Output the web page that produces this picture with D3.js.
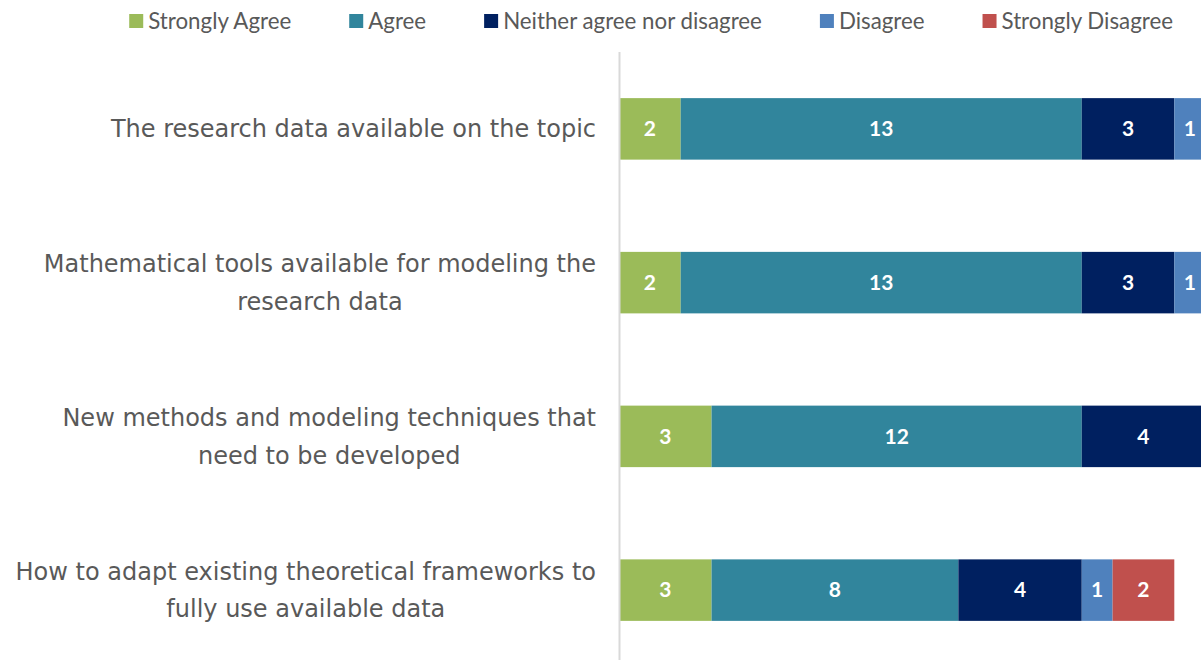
<!DOCTYPE html>
<html lang="en">
<head>
<meta charset="utf-8">
<title>Stacked bar chart</title>
<script src="https://cdn.jsdelivr.net/npm/d3@7"></script>
<style>
  body { margin: 0; background: #fff; }
  svg { display: block; }
</style>
</head>
<body>
<script>
// data
var categories = [
  ["The research data available on the topic"],
  ["Mathematical tools available for modeling the", "research data"],
  ["New methods and modeling techniques that", "need to be developed"],
  ["How to adapt existing theoretical frameworks to", "fully use available data"]
];
var seriesNames = ["Strongly Agree", "Agree", "Neither agree nor disagree", "Disagree", "Strongly Disagree"];
var seriesColors = ["#9BBB59", "#31859C", "#002060", "#4F81BD", "#C0504D"];
var stronglyAgree = [2, 2, 3, 3];
var agree = [13, 13, 12, 8];
var neither = [3, 3, 4, 4];
var disagree = [1, 1, 0, 1];
var stronglyDisagree = [0, 0, 0, 2];

var w = 1201, h = 660;
var axisX = 619;

var svg = d3.select("body").append("svg")
  .attr("width", w)
  .attr("height", h);

var rows = categories.map(function(c, i) {
  return { id: i, sa: stronglyAgree[i], a: agree[i], n: neither[i], d: disagree[i], sd: stronglyDisagree[i] };
});
var keys = ["sa", "a", "n", "d", "sd"];
var stacked = d3.stack().keys(keys)(rows);

var x = d3.scaleLinear().domain([0, 20]).range([axisX, axisX + 617]);
var y = d3.scaleBand().domain(rows.map(function(d) { return d.id; }))
  .range([52, 667]).paddingInner(0.6).paddingOuter(0.3);

// bars
var layers = svg.selectAll("g.layer")
  .data(stacked)
  .enter().append("g")
  .attr("class", "layer")
  .attr("fill", function(d, i) { return seriesColors[i]; });

layers.selectAll("rect")
  .data(function(d) { return d.filter(function(p) { return p[1] - p[0] > 0; }); })
  .enter().append("rect")
  .attr("x", function(d) { return x(d[0]); })
  .attr("y", function(d) { return y(d.data.id); })
  .attr("width", function(d) { return x(d[1]) - x(d[0]); })
  .attr("height", y.bandwidth());

// value labels
layers.selectAll("text")
  .data(function(d) { return d.filter(function(p) { return p[1] - p[0] > 0; }); })
  .enter().append("text")
  .attr("x", function(d) { return (x(d[0]) + x(d[1])) / 2; })
  .attr("y", function(d) { return y(d.data.id) + y.bandwidth() / 2; })
  .attr("dy", "0.35em")
  .attr("text-anchor", "middle")
  .attr("fill", "#fff")
  .attr("font-family", "Lato, 'Open Sans', sans-serif")
  .attr("font-weight", "bold")
  .attr("font-size", "21px")
  .text(function(d) { return d[1] - d[0]; });

// axis line
svg.append("line")
  .attr("x1", axisX + 0.5).attr("x2", axisX + 0.5)
  .attr("y1", 52).attr("y2", h)
  .attr("stroke", "#d9d9d9")
  .attr("stroke-width", 2);

// category labels (multi-line blocks centred, right edge at 596)
var lineH = 37.5;
categories.forEach(function(lines, i) {
  var cy = y(i) + y.bandwidth() / 2;
  var g = svg.append("text")
    .attr("font-family", "'DejaVu Sans', Verdana, sans-serif")
    .attr("font-size", "24px")
    .attr("fill", "#595959")
    .attr("text-anchor", "middle");
  var tspans = lines.map(function(t, j) {
    return g.append("tspan")
      .attr("y", cy + (j - (lines.length - 1) / 2) * lineH)
      .attr("dy", "0.35em")
      .text(t);
  });
  var maxW = d3.max(tspans, function(t) { return t.node().getComputedTextLength(); });
  tspans.forEach(function(t) { t.attr("x", 596 - maxW / 2); });
});

// legend
var legend = svg.append("g");
var gap = 58;
var lx = 0;
seriesNames.forEach(function(name, i) {
  var item = legend.append("g").attr("transform", "translate(" + lx + ",0)");
  item.append("rect")
    .attr("x", 0).attr("y", 14)
    .attr("width", 14).attr("height", 14)
    .attr("fill", seriesColors[i]);
  var t = item.append("text")
    .attr("x", 19).attr("y", 21)
    .attr("dy", "0.35em")
    .attr("font-family", "Lato, 'Open Sans', sans-serif")
    .attr("font-size", "22.3px")
    .attr("fill", "#595959")
    .text(name);
  lx += 19 + t.node().getComputedTextLength() + gap;
});
var legendW = lx - gap;
legend.attr("transform", "translate(" + (1173 - legendW) + ",0)");
</script>
</body>
</html>
